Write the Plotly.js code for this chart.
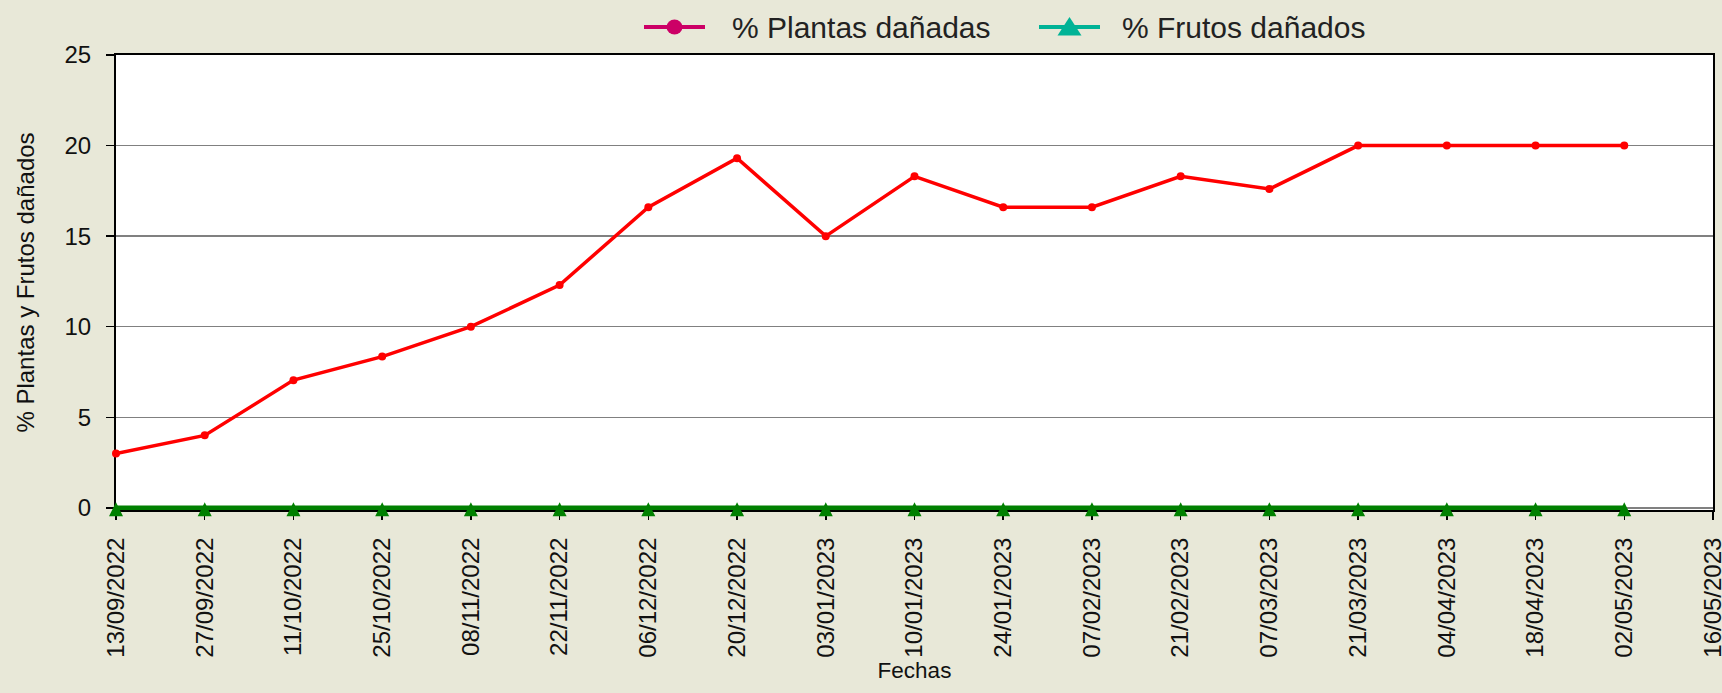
<!DOCTYPE html>
<html>
<head>
<meta charset="utf-8">
<script src="https://cdn.plot.ly/plotly-3.0.1.min.js"></script>
<style>
html,body{margin:0;padding:0;background:#E8E8D8;}
#chart{width:1722px;height:693px;}
</style>
</head>
<body>
<div id="chart"></div>
<script>
// Categories (equally spaced dates on a category axis)
const fechas = ["13/09/2022","27/09/2022","11/10/2022","25/10/2022","08/11/2022","22/11/2022",
  "06/12/2022","20/12/2022","03/01/2023","10/01/2023","24/01/2023","07/02/2023",
  "21/02/2023","07/03/2023","21/03/2023","04/04/2023","18/04/2023","02/05/2023","16/05/2023"];
const fechasDatos = fechas.slice(0, 18);
const plantasDanadas = [3, 4, 7.05, 8.35, 10, 12.3, 16.6, 19.3, 15, 18.3, 16.6, 16.6, 18.3, 17.6, 20, 20, 20, 20];
const frutosDanados  = [0, 0, 0, 0, 0, 0, 0, 0, 0, 0, 0, 0, 0, 0, 0, 0, 0, 0];
const yTicks = [0, 5, 10, 15, 20, 25];
const serieNombres = ["% Plantas dañadas", "% Frutos dañados"];

const baseFont = "Liberation Sans, Arial, sans-serif";

// plot-area geometry in pixels (used only for the hand-drawn legend)
const W = 1722, H = 693;
const M = {l: 116, r: 9, t: 55, b: 183};
const PW = W - M.l - M.r, PH = H - M.t - M.b;
const px = v => (v - M.l) / PW;
const py = v => (H - M.b - v) / PH;

const yRange = [-0.12, 25];
// overlay axis for the triangle markers: same scale, shifted a few pixels up,
// because 'arrow-up' has its apex at the point (the original centres the triangle)
const unitsPerPx = (yRange[1] - yRange[0]) / PH;
const yRange2 = [yRange[0] - 5.5 * unitsPerPx, yRange[1] - 5.5 * unitsPerPx];

const traces = [
  {
    x: fechasDatos, y: frutosDanados, type: "scatter", mode: "lines",
    name: serieNombres[1], showlegend: false,
    line: {color: "#008000", width: 4.5}
  },
  {
    x: fechasDatos, y: plantasDanadas, type: "scatter", mode: "lines+markers",
    name: serieNombres[0], showlegend: false, cliponaxis: false,
    line: {color: "#FF0000", width: 3.5},
    marker: {symbol: "circle", size: 8, color: "#FF0000"}
  },
  {
    x: fechasDatos, y: frutosDanados, type: "scatter", mode: "markers",
    yaxis: "y2", name: serieNombres[1], showlegend: false, cliponaxis: false,
    marker: {symbol: "arrow-up", size: 14, color: "#008000", line: {width: 0}}
  }
];

// Legend drawn as shapes + annotations (original swatch colours differ from the lines)
const legY = 27;
const leg = [
  {x0: 644, x1: 705, tx: 730, color: "#CC0066", sym: "circle", text: serieNombres[0]},
  {x0: 1039, x1: 1100, tx: 1120, color: "#00B396", sym: "triangle", text: serieNombres[1]}
];
const shapes = [], annotations = [];
leg.forEach(it => {
  shapes.push({type: "line", xref: "paper", yref: "paper",
    x0: px(it.x0), x1: px(it.x1), y0: py(legY), y1: py(legY),
    line: {color: it.color, width: 4}});
  const cx = (it.x0 + it.x1) / 2;
  if (it.sym === "circle") {
    shapes.push({type: "circle", xref: "paper", yref: "paper",
      x0: px(cx - 8), x1: px(cx + 8), y0: py(legY - 7.5), y1: py(legY + 7.5),
      fillcolor: it.color, line: {color: it.color, width: 0}});
  } else {
    const p = `M ${px(cx - 12)} ${py(legY + 8.5)} L ${px(cx + 12)} ${py(legY + 8.5)} L ${px(cx)} ${py(legY - 10)} Z`;
    shapes.push({type: "path", xref: "paper", yref: "paper", path: p,
      fillcolor: it.color, line: {color: it.color, width: 0}});
  }
  annotations.push({xref: "paper", yref: "paper", x: px(it.tx), y: py(legY + 1),
    xanchor: "left", yanchor: "middle", showarrow: false, text: it.text,
    font: {family: baseFont, size: 30, color: "#222222"}});
});

const layout = {
  width: W, height: H,
  paper_bgcolor: "#E8E8D8",
  plot_bgcolor: "#FFFFFF",
  margin: {l: M.l, r: M.r, t: M.t, b: M.b, pad: 0},
  font: {family: baseFont, size: 24, color: "#000000"},
  showlegend: false,
  shapes: shapes,
  annotations: annotations,
  xaxis: {
    type: "category", categoryorder: "array", categoryarray: fechas,
    tickvals: fechas, ticktext: fechas,
    range: [0, 18], autorange: false,
    showgrid: false, zeroline: false,
    showline: true, linecolor: "#000000", linewidth: 2, mirror: true,
    layer: "below traces",
    ticks: "outside", ticklen: 8, tickcolor: "#000000", tickwidth: 1.5,
    ticklabelstandoff: 8,
    tickangle: -90, tickfont: {family: baseFont, size: 24, color: "#111111"},
    automargin: false,
    title: {text: "Fechas", font: {family: baseFont, size: 22.5, color: "#111111"}, standoff: 6}
  },
  yaxis: {
    range: yRange, autorange: false,
    tickvals: yTicks,
    showgrid: true, gridcolor: "#808080", gridwidth: 1.5,
    zeroline: false,
    showline: true, linecolor: "#000000", linewidth: 2, mirror: true,
    layer: "below traces",
    ticks: "outside", ticklen: 8, tickcolor: "#000000", tickwidth: 1.5,
    ticklabelstandoff: 10,
    tickfont: {family: baseFont, size: 24, color: "#111111"},
    automargin: false,
    title: {text: "% Plantas y Frutos dañados", font: {family: baseFont, size: 24, color: "#111111"}, standoff: 23}
  },
  yaxis2: {
    overlaying: "y", range: yRange2, autorange: false, visible: false,
    showgrid: false, zeroline: false, showticklabels: false
  }
};

Plotly.newPlot("chart", traces, layout, {displayModeBar: false, staticPlot: true});
</script>
</body>
</html>
